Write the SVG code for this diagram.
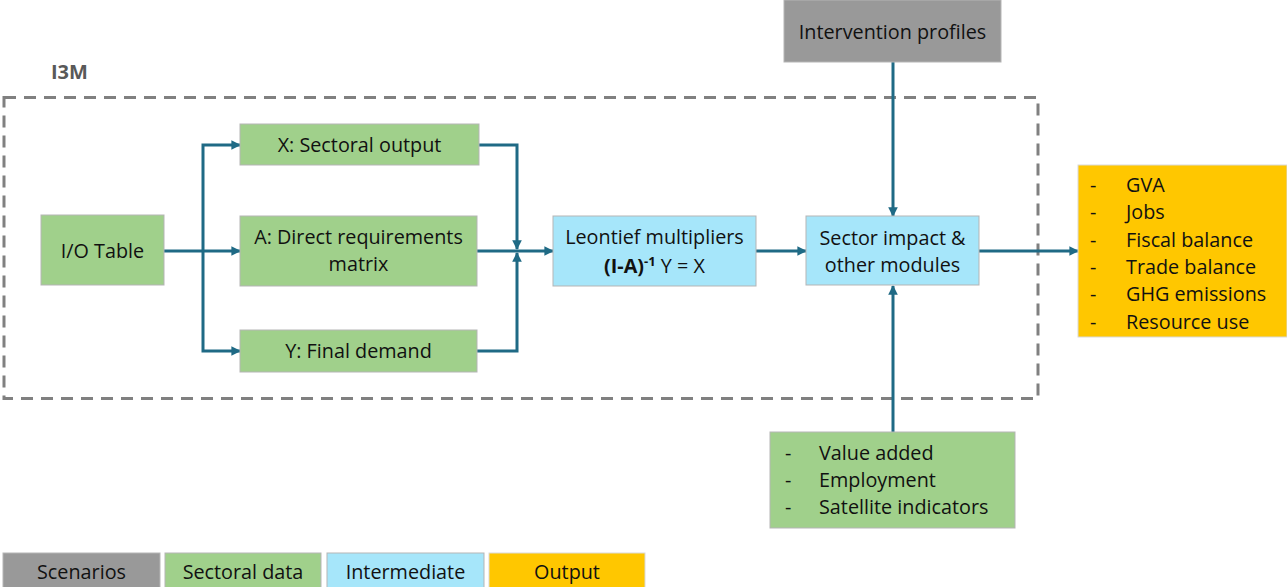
<svg xmlns="http://www.w3.org/2000/svg" width="1287" height="587" viewBox="0 0 1287 587">
<style>
text{font-family:"Open Sans",Lato,"Liberation Sans",sans-serif;font-size:19.8px;fill:#111;}
.c{text-anchor:middle;}
.green{fill:#A0D08B;stroke:#B5B5B5;stroke-width:1;}
.blue{fill:#A6E6FA;stroke:#B5B5B5;stroke-width:1;}
.gray{fill:#999999;stroke:#B5B5B5;stroke-width:1;}
.yellow{fill:#FFC700;stroke:#D9D9D9;stroke-width:1;}
.conn{fill:none;stroke:#1F6A85;stroke-width:3;}
</style>
<defs>
<marker id="arr" viewBox="0 0 10 10" refX="9" refY="5" markerWidth="3.2" markerHeight="3.2" orient="auto" markerUnits="strokeWidth">
<path d="M0,0 L10,5 L0,10 z" fill="#1F6A85"/>
</marker>
</defs>

<g id="i3m-frame">
<rect x="4" y="97.5" width="1034" height="301" fill="none" stroke="#808080" stroke-width="3" stroke-dasharray="12 8"/>
<text x="51" y="79" style="font-weight:bold;fill:#595959;font-size:20px">I3M</text>
</g>

<g id="connectors">
<path class="conn" d="M164,251 H240" marker-end="url(#arr)"/>
<path class="conn" d="M203,251 V145 H240" marker-end="url(#arr)"/>
<path class="conn" d="M203,251 V351 H240" marker-end="url(#arr)"/>
<path class="conn" d="M479,145 H517 V249" marker-end="url(#arr)"/>
<path class="conn" d="M477,351 H517 V253" marker-end="url(#arr)"/>
<path class="conn" d="M477,251 H553" marker-end="url(#arr)"/>
<path class="conn" d="M756,251 H806" marker-end="url(#arr)"/>
<path class="conn" d="M893,62 V216" marker-end="url(#arr)"/>
<path class="conn" d="M893,432 V286" marker-end="url(#arr)"/>
<path class="conn" d="M979,251 H1078" marker-end="url(#arr)"/>
</g>

<g id="io-table">
<rect class="green" x="41" y="215" width="123" height="70"/>
<text class="c" x="102.5" y="258">I/O Table</text>
</g>

<g id="x-output">
<rect class="green" x="240" y="124" width="239" height="41"/>
<text class="c" x="359.5" y="152">X: Sectoral output</text>
</g>

<g id="a-matrix">
<rect class="green" x="240" y="216" width="237" height="70"/>
<text class="c" x="358.5" y="244">A: Direct requirements</text>
<text class="c" x="358.5" y="271">matrix</text>
</g>

<g id="y-demand">
<rect class="green" x="240" y="330" width="237" height="42"/>
<text class="c" x="358.5" y="358">Y: Final demand</text>
</g>

<g id="leontief">
<rect class="blue" x="553" y="216" width="203" height="70"/>
<text class="c" x="654.5" y="244">Leontief multipliers</text>
<text class="c" x="654.5" y="273"><tspan style="font-weight:bold">(I-A)</tspan><tspan style="font-weight:bold;font-size:13px" dy="-7">-1</tspan><tspan dy="7"> Y = X</tspan></text>
</g>

<g id="sector-impact">
<rect class="blue" x="806" y="216" width="173" height="69"/>
<text class="c" x="892.5" y="245">Sector impact &amp;</text>
<text class="c" x="892.5" y="272">other modules</text>
</g>

<g id="intervention">
<rect class="gray" x="784" y="0" width="217" height="62"/>
<text class="c" x="892.5" y="39">Intervention profiles</text>
</g>

<g id="outputs">
<rect class="yellow" x="1078" y="165" width="209" height="172"/>
<text x="1090" y="192">-</text><text x="1126" y="192">GVA</text>
<text x="1090" y="219">-</text><text x="1126" y="219">Jobs</text>
<text x="1090" y="247">-</text><text x="1126" y="247">Fiscal balance</text>
<text x="1090" y="274">-</text><text x="1126" y="274">Trade balance</text>
<text x="1090" y="301">-</text><text x="1126" y="301">GHG emissions</text>
<text x="1090" y="329">-</text><text x="1126" y="329">Resource use</text>
</g>

<g id="sectoral-indicators">
<rect class="green" x="770" y="432" width="245" height="96"/>
<text x="785" y="460">-</text><text x="819" y="460">Value added</text>
<text x="785" y="487">-</text><text x="819" y="487">Employment</text>
<text x="785" y="514">-</text><text x="819" y="514">Satellite indicators</text>
</g>

<g id="legend">
<rect class="gray" x="3" y="553" width="157" height="36"/>
<text class="c" x="81.5" y="579">Scenarios</text>
<rect class="green" x="165" y="553" width="156" height="36"/>
<text class="c" x="243" y="579">Sectoral data</text>
<rect class="blue" x="327" y="553" width="157" height="36"/>
<text class="c" x="405.5" y="579">Intermediate</text>
<rect class="yellow" x="489" y="553" width="156" height="36"/>
<text class="c" x="567" y="579">Output</text>
</g>
</svg>
